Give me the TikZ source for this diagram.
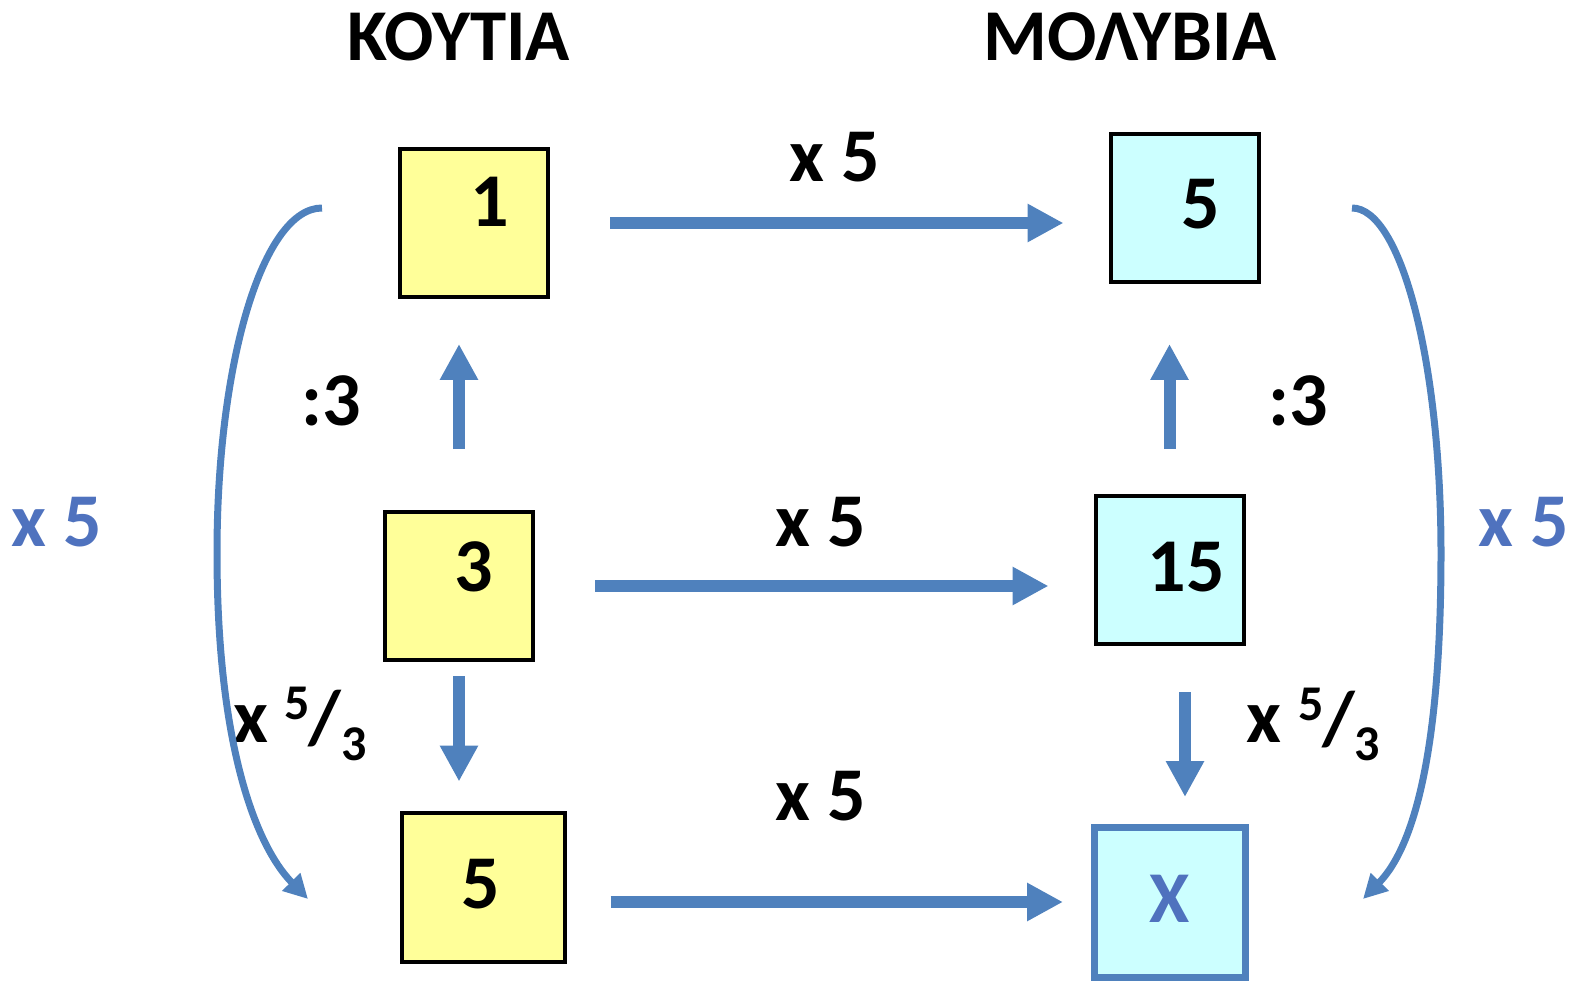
\documentclass[tikz,border=0pt]{standalone}
\usepackage{fontspec}
\setmainfont{Carlito}
\usetikzlibrary{arrows.meta}
\definecolor{boxyellow}{HTML}{FFFF99}
\definecolor{boxcyan}{HTML}{CCFFFF}
\definecolor{flowblue}{HTML}{4F81BD}
\definecolor{textblue}{HTML}{4F72BE}

\begin{document}
\begin{tikzpicture}[x=1pt,y=-1pt,
  cell/.style={draw=black, line width=4pt, minimum width=148pt, minimum height=148pt, inner sep=0pt},
  num/.style={font=\fontsize{76}{80}\selectfont\bfseries, inner sep=0pt, anchor=base},
  title/.style={font=\fontsize{73}{80}\selectfont\bfseries, inner sep=0pt, anchor=base},
  op/.style={font=\fontsize{76}{80}\selectfont\bfseries, inner sep=0pt, anchor=base},
  frac/.style={font=\fontsize{50}{56}\selectfont\bfseries, inner sep=0pt, anchor=base},
  flow/.style={draw=flowblue, line width=12pt, -{Triangle[length=36pt,width=36pt]}},
  loop/.style={draw=flowblue, line width=7pt, -{Triangle[length=24pt,width=24pt]}}]
\useasboundingbox (0,0) rectangle (1577,981);

% column headings
\node[title] (tk) at (459,61) {ΚΟΥΤΙΑ};
\node[title] (tm) at (1130,61) {ΜΟΛΥΒΙΑ};

% boxes
\node[cell, fill=boxyellow] (y1) at (474,223) {};
\node[cell, fill=boxyellow] (y3) at (459,586) {};
\node[cell, fill=boxyellow, minimum width=163pt, minimum height=149pt] (y5) at (483,887) {};
\node[cell, fill=boxcyan] (c5) at (1184.5,208) {};
\node[cell, fill=boxcyan] (c15) at (1169.5,570) {};
\node[cell, fill=boxcyan, draw=flowblue, line width=7pt, minimum width=151pt, minimum height=150pt] (cx) at (1170,902.5) {};

% box contents
\node[num] (t1) at (490,227) {1};
\node[num] (t3) at (474,591) {3};
\node[num] (t5a) at (481,908) {5};
\node[num] (t5b) at (1201,229) {5};
\node[num] (t15) at (1186,591) {15};
\node[num, text=textblue, font=\fontsize{73}{80}\selectfont\bfseries] (tx) at (1170,922) {X};

% horizontal arrows
\draw[flow, shorten <=60pt, shorten >=45pt] (y1.east) -- (y1.east -| c5.west);
\draw[flow, shorten <=60pt, shorten >=45pt] (y3.east) -- (y3.east -| c15.west);
\draw[flow, shorten <=44pt, shorten >=28pt] ([yshift=-15pt]y5.east) -- ([yshift=-15pt]y5.east -| cx.west);

% vertical arrows
\draw[flow, shorten <=61pt, shorten >=45pt] (y3.north) -- (y3.north |- y1.south);
\draw[flow, shorten <=14pt, shorten >=29pt] (y3.south) -- (y3.south |- y5.north);
\draw[flow, shorten <=45pt, shorten >=60pt] (c15.north) -- (c15.north |- c5.south);
\draw[flow, shorten <=46pt, shorten >=27pt] ([xshift=15.5pt]c15.south) -- ([xshift=15.5pt]c15.south |- cx.north);

% operation labels
\node[op] (m1) at (835,182) {x 5};
\node[op] (m2) at (821,546) {x 5};
\node[op] (m3) at (821,820) {x 5};
\node[op] (d1) at (331,425.5) {:3};
\node[op] (d2) at (1298,425.5) {:3};
\node[op, text=textblue] (sl) at (57,546) {x 5};
\node[op, text=textblue] (sr) at (1524,546) {x 5};

% x 5/3, left
\node[op] (fl1) at (251,742) {x};
\node[frac] (fl2) at (297,719) {5};
\node[op, anchor=center] (fl3) at (325,719) {/};
\node[frac] (fl4) at (354,760) {3};
% x 5/3, right
\node[op] (fr1) at (1263.5,742) {x};
\node[frac] (fr2) at (1311,720) {5};
\node[op, anchor=center] (fr3) at (1338.5,719.5) {/};
\node[frac] (fr4) at (1367.5,760) {3};

% outer curved arrows
\coordinate (lt) at (322,208);
\coordinate (lb) at (308,899);
\coordinate (rt) at (1352,208);
\coordinate (rb) at (1363,899);
\draw[loop] (lt) .. controls (263,208) and (217,362) .. (217,553)
  .. controls (217,743) and (255,845) .. (lb);
\draw[loop] (rt) .. controls (1401,208) and (1441,362) .. (1441,553)
  .. controls (1441,743) and (1416,845) .. (rb);
\end{tikzpicture}
\end{document}
